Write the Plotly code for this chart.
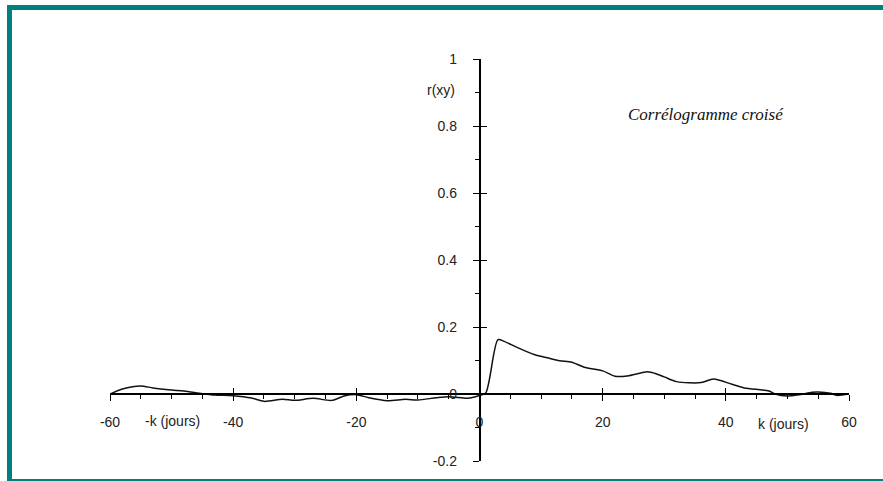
import plotly.graph_objects as go

# Data (lag k in days, cross-correlation r(xy))
lags = [-60, -58, -55, -53, -50, -48, -45, -43, -40, -37, -35, -32, -30, -27,
        -24, -22, -20, -18, -15, -12, -10, -7, -5, -2, -1, 0,
        1, 3, 4, 6, 9, 11, 13, 15, 17, 20, 22, 24, 27, 28, 30, 32, 36, 38,
        41, 43, 47, 48, 50, 52, 54, 55, 57, 58, 60]
r_xy = [0.0, 0.015, 0.024, 0.018, 0.012, 0.009, 0.001, -0.003, -0.005, -0.012,
        -0.022, -0.016, -0.019, -0.013, -0.019, -0.006, -0.002, -0.011, -0.02,
        -0.016, -0.018, -0.011, -0.008, -0.013, -0.01, -0.004,
        0.003, 0.162, 0.157, 0.14, 0.117, 0.108, 0.099, 0.095, 0.08, 0.069,
        0.053, 0.054, 0.066, 0.064, 0.051, 0.037, 0.034, 0.045, 0.029, 0.018,
        0.009, 0.0, -0.006, -0.002, 0.005, 0.006, 0.002, -0.004, 0.0]

x_ticks = [-60, -40, -20, 0, 20, 40, 60]
x_tick_text = ["-60", "-40", "-20", "0", "20", "40", "60"]
y_ticks = [-0.2, 0, 0.2, 0.4, 0.6, 0.8, 1]
y_tick_text = ["-0.2", "0", "0.2", "0.4", "0.6", "0.8", "1"]

X_RANGE = [-60, 60]
Y_RANGE = [-0.2, 1]

# body margin removed by post_script, so figure pixels == page pixels
W, H = 883, 481
# plot area: x 110..849, y 59..461
L, T = 110, 59
PW = 849 - 110
PH = 461 - 59
R = W - L - PW
B = H - T - PH

FONT = "Liberation Sans, Arial, sans-serif"
TEAL = "#007f7f"
TXT = "#222222"

y0_frac = (0 - Y_RANGE[0]) / (Y_RANGE[1] - Y_RANGE[0])
x0_frac = (0 - X_RANGE[0]) / (X_RANGE[1] - X_RANGE[0])

fig = go.Figure()
fig.add_trace(go.Scatter(x=lags, y=r_xy, mode="lines",
                         line=dict(color="#111111", width=1.5, shape="spline", smoothing=0.8),
                         hoverinfo="skip", showlegend=False))
# invisible trace to activate the overlay axes (inside half of crossing ticks)
fig.add_trace(go.Scatter(x=lags, y=r_xy, mode="lines", xaxis="x2", yaxis="y2",
                         line=dict(color="rgba(0,0,0,0)", width=0),
                         hoverinfo="skip", showlegend=False))

common_x = dict(range=X_RANGE, anchor="free", position=y0_frac, showgrid=False,
                zeroline=False, tickvals=x_ticks, tickcolor="black", tickwidth=1.3)
common_y = dict(range=Y_RANGE, anchor="free", position=x0_frac, showgrid=False,
                zeroline=False, tickvals=y_ticks, tickcolor="black", tickwidth=1.3)

fig.update_layout(
    width=W, height=H,
    margin=dict(l=L, r=R, t=T, b=B, pad=0),
    paper_bgcolor="white", plot_bgcolor="white",
    font=dict(family=FONT, size=14, color=TXT),
    xaxis=dict(**common_x, showline=True, linecolor="black", linewidth=1.5,
               ticks="outside", ticklen=6, ticktext=x_tick_text, ticklabelstandoff=9,
               minor=dict(dtick=5, ticks="outside", ticklen=4, tickcolor="black", tickwidth=1.2),
               tickfont=dict(family=FONT, size=14, color=TXT)),
    yaxis=dict(**common_y, showline=True, linecolor="black", linewidth=1.5,
               ticks="outside", ticklen=6, ticktext=y_tick_text, ticklabelstandoff=13,
               minor=dict(dtick=0.1, ticks="outside", ticklen=4, tickcolor="black", tickwidth=1.2),
               tickfont=dict(family=FONT, size=14, color=TXT)),
    xaxis2=dict(**common_x, overlaying="x", showline=False, ticks="inside", ticklen=6,
                showticklabels=False),
    yaxis2=dict(**common_y, overlaying="y", showline=False, ticks="inside", ticklen=6,
                showticklabels=False),
)

def px_to_paper_x(px):
    return (px - L) / PW

def py_to_paper_y(py):
    return (H - B - py) / PH

annotations = [
    dict(text="-k (jours)", px=172, py=421, font=dict(family=FONT, size=14, color=TXT)),
    dict(text="k (jours)", px=783, py=424, font=dict(family=FONT, size=14, color=TXT)),
    dict(text="r(xy)", px=441, py=90, font=dict(family=FONT, size=14, color=TXT)),
    dict(text="<i>Corrélogramme croisé</i>", px=706, py=114,
         font=dict(family="Liberation Serif, Times New Roman, serif", size=17, color="#111111")),
]
for a in annotations:
    fig.add_annotation(text=a["text"], xref="paper", yref="paper",
                       x=px_to_paper_x(a["px"]), y=py_to_paper_y(a["py"]),
                       xanchor="center", yanchor="middle", showarrow=False, font=a["font"])

# teal frame: only left, top and bottom edges (the right edge is outside the view)
frame_edges = [
    ((9.5, 5), (9.5, 481)),      # left
    ((7, 7.5), (883, 7.5)),      # top
    ((7, 481.5), (883, 481.5)),  # bottom
]
for (xa, ya), (xb, yb) in frame_edges:
    fig.add_shape(type="line", xref="paper", yref="paper",
                  x0=px_to_paper_x(xa), y0=py_to_paper_y(ya),
                  x1=px_to_paper_x(xb), y1=py_to_paper_y(yb),
                  line=dict(color=TEAL, width=5), layer="above")

fig.write_html("out.html",
               config={"displayModeBar": False},
               post_script="document.body.style.margin='0';document.body.style.overflow='hidden';")
